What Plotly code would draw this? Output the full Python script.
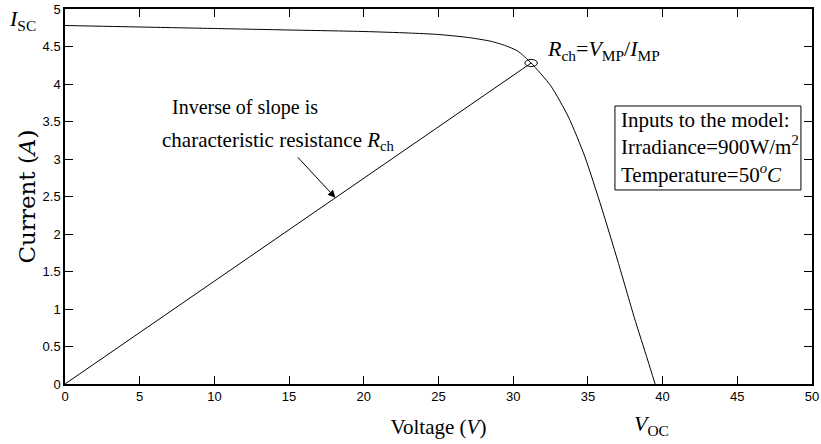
import plotly.graph_objects as go

# I-V characteristic of the PV module (voltage in V, current in A)
voltage = [0, 5, 10, 15, 20, 23, 25, 27, 28.5, 29.5, 30.3, 31.2, 32.5, 33.7,
           34.8, 35.9, 37.0, 38.1, 39.0, 39.5]
current = [4.78, 4.76, 4.74, 4.72, 4.70, 4.68, 4.66, 4.62, 4.57, 4.51, 4.44,
           4.28, 3.98, 3.56, 3.03, 2.36, 1.64, 0.89, 0.32, 0.0]

# Maximum power point and characteristic-resistance line through the origin
v_mp = 31.2
i_mp = 4.28
rch_v = [0, v_mp]
rch_i = [0, i_mp]

i_sc = current[0]
v_oc = voltage[-1]

x_ticks = [0, 5, 10, 15, 20, 25, 30, 35, 40, 45, 50]
y_ticks = [0, 0.5, 1, 1.5, 2, 2.5, 3, 3.5, 4, 4.5, 5]

serif = "Liberation Serif, Times New Roman, serif"
wide_serif = "DejaVu Serif, serif"
sans = "Liberation Sans Narrow, Arial Narrow, Liberation Sans, Arial, sans-serif"

fig = go.Figure()
fig.add_trace(go.Scatter(x=voltage, y=current, mode="lines",
                         line=dict(color="black", width=1, shape="spline", smoothing=0.6),
                         showlegend=False, hoverinfo="skip"))
fig.add_trace(go.Scatter(x=rch_v, y=rch_i, mode="lines",
                         line=dict(color="black", width=1),
                         showlegend=False, hoverinfo="skip"))

# small ellipse marking the maximum power point
fig.add_shape(type="circle", xref="x", yref="y",
              x0=v_mp - 0.42, x1=v_mp + 0.42, y0=i_mp - 0.047, y1=i_mp + 0.047,
              line=dict(color="black", width=1))

# frame around the model-input note
fig.add_shape(type="rect", xref="x", yref="y", x0=36.81, x1=49.26, y0=2.587, y1=3.707,
              line=dict(color="black", width=1), fillcolor="white", layer="above")

axis_common = dict(showgrid=False, zeroline=False, showline=True, linecolor="black",
                   linewidth=1.5, mirror="ticks", ticks="inside", ticklen=8,
                   tickcolor="black", tickwidth=1, automargin=False,
                   tickfont=dict(family=sans, size=13, color="black"))

fig.update_xaxes(range=[0, 50], tickvals=x_ticks, ticktext=[str(t) for t in x_ticks],
                 title=dict(text="Voltage (<i>V</i>)", font=dict(family=serif, size=21, color="black"),
                            standoff=16),
                 **axis_common)
fig.update_yaxes(range=[0, 5], tickvals=y_ticks, ticktext=[f"{t:g}" for t in y_ticks],
                 title=dict(text="Current (<i>A</i>)", font=dict(family=wide_serif, size=23, color="black"),
                            standoff=1),
                 **axis_common)

annotations = [
    dict(x=-0.036, y=i_sc + 0.07, xref="paper", yref="y", xanchor="right", yanchor="middle",
         text="<i>I</i><sub>SC</sub>", showarrow=False,
         font=dict(family=serif, size=22, color="black")),
    dict(x=v_oc, y=-0.108, xref="x", yref="paper", xanchor="center", yanchor="middle", xshift=-4,
         text="<i>V</i><sub>OC</sub>", showarrow=False,
         font=dict(family=serif, size=22, color="black")),
    dict(x=v_mp + 0.93, y=i_mp + 0.18, xref="x", yref="y", xanchor="left", yanchor="middle",
         text="<i>R</i><sub>ch</sub>=<i>V</i><sub>MP</sub>/<i>I</i><sub>MP</sub>", showarrow=False,
         font=dict(family=serif, size=22, color="black")),
    dict(x=7.0, y=3.69, xref="x", yref="y", xanchor="left", yanchor="middle", align="left",
         text="Inverse of slope is", showarrow=False,
         font=dict(family=serif, size=20, color="black")),
    dict(x=6.36, y=3.24, xref="x", yref="y", xanchor="left", yanchor="middle", align="left",
         text="characteristic resistance <i>R</i><sub>ch</sub>", showarrow=False,
         font=dict(family=serif, size=21, color="black")),
    dict(x=18.1, y=18.1 * i_mp / v_mp, xref="x", yref="y", ax=-39, ay=-42,
         text="", showarrow=True, arrowhead=2, arrowsize=1.5, arrowwidth=1, arrowcolor="black"),
    dict(x=37.1, y=3.16, xref="x", yref="y", xanchor="left", yanchor="middle", align="left",
         text="Inputs to the model:<br>Irradiance=900W/m<sup>2</sup><br>Temperature=50<sup><i>o</i></sup><i>C</i>",
         showarrow=False, font=dict(family=serif, size=21, color="black")),
]

fig.update_layout(width=821, height=444, margin=dict(l=65, r=9, t=9, b=60),
                  paper_bgcolor="white", plot_bgcolor="white", annotations=annotations)

fig.write_html("out.html")
